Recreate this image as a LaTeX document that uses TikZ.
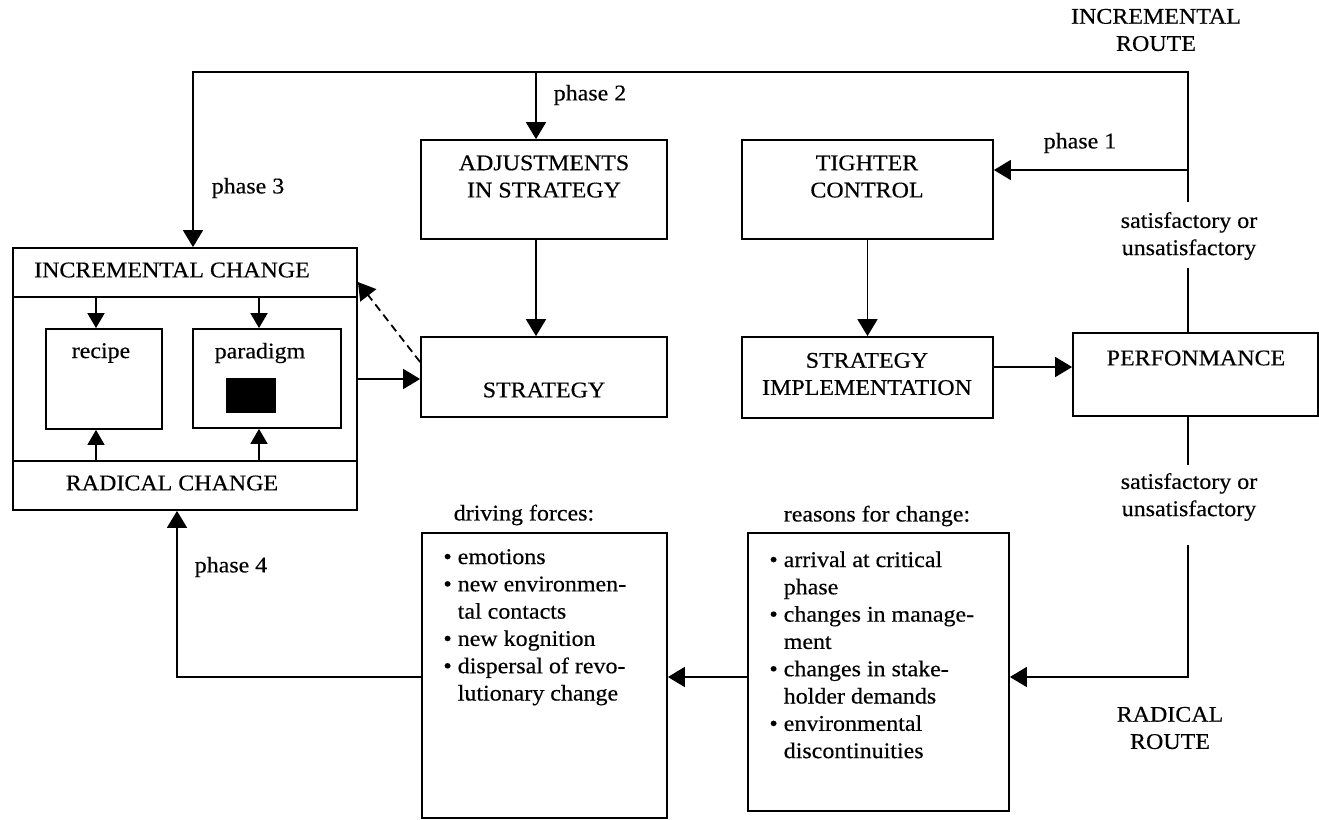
\documentclass[tikz,border=0pt]{standalone}
\usepackage{fontspec}
\setmainfont{Liberation Serif}[FakeStretch=1.07,FakeBold=0.4]
\usetikzlibrary{arrows.meta,fit,calc}

\tikzset{
  every node/.style={font=\fontsize{11.2pt}{13.6pt}\selectfont},
  frame/.style={draw, line width=0.9pt, inner sep=0pt},
  lbl/.style={align=center, inner sep=0pt},
  listline/.style={anchor=base west, inner sep=0pt},
  conn/.style={line width=0.9pt},
  arr/.style={conn, -{Triangle[length=8.5pt,width=10pt]}},
  smallarr/.style={conn, -{Triangle[length=7.5pt,width=8.5pt]}},
  dasharr/.style={arr, dash pattern=on 4pt off 2.5pt},
}

\begin{document}
\begin{tikzpicture}[x=0.5pt, y=-0.5pt]
\useasboundingbox (0,0) rectangle (1319,820);

% ---- boxes ----
\node[frame, fit={(421,140)(667,239)}] (adj) {};
\node[frame, fit={(742,140)(993,239)}] (tight) {};
\node[frame, fit={(421,337)(667,417)}] (strat) {};
\node[frame, fit={(742,337)(993,418)}] (impl) {};
\node[frame, fit={(1073,333)(1318,416)}] (perf) {};
\node[frame, fit={(13,248)(357,510)}] (change) {};
\node[frame, fit={(13,248)(357,297)}] (incr) {};
\node[frame, fit={(13,461)(357,510)}] (rad) {};
\node[frame, fit={(46,329)(162,429)}] (recipe) {};
\node[frame, fit={(193,329)(341,428)}] (para) {};
\node[fill=black, inner sep=0pt, fit={(226,378)(276,413)}] (blk) {};
\node[frame, fit={(422,533)(667,818)}] (drive) {};
\node[frame, fit={(748,533)(1009,811)}] (reason) {};

% ---- labels ----
\node[lbl] (adjt) at (544,176.5) {ADJUSTMENTS\\IN STRATEGY};
\node[lbl] (tightt) at (867,176.5) {TIGHTER\\CONTROL};
\node[lbl] (stratt) at (544,390) {STRATEGY};
\node[lbl] (implt) at (867,374) {STRATEGY\\IMPLEMENTATION};
\node[lbl] (perft) at (1196,358) {PERFONMANCE};
\node[lbl] (incrt) at (172,270) {INCREMENTAL CHANGE};
\node[lbl] (radt) at (172,483) {RADICAL CHANGE};
\node[lbl] (recipet) at (101,353) {recipe};
\node[lbl] (parat) at (260,353) {paradigm};
\node[lbl] (drivet) at (524,515) {driving forces:};
\node[lbl] (reasont) at (877,516) {reasons for change:};
\node[lbl] (ph1) at (1080,143) {phase 1};
\node[lbl] (ph2) at (590,95) {phase 2};
\node[lbl] (ph3) at (248,188) {phase 3};
\node[lbl] (ph4) at (231,567) {phase 4};
\node[lbl] (sat1) at (1189,236) {satisfactory or\\unsatisfactory};
\node[lbl] (sat2) at (1189,497) {satisfactory or\\unsatisfactory};
\node[lbl] (iroute) at (1156,30) {INCREMENTAL\\ROUTE};
\node[lbl] (rroute) at (1170,728) {RADICAL\\ROUTE};

% ---- bullet lists ----
\foreach [count=\i] \t in {
  {\textbullet\ emotions},
  {\textbullet\ new environmen-},
  {\hphantom{\textbullet\ }tal contacts},
  {\textbullet\ new kognition},
  {\textbullet\ dispersal of revo-},
  {\hphantom{\textbullet\ }lutionary change}}
  \node[listline] (drv\i) at (443,{536.7+27.3*\i}) {\t};

\foreach [count=\i] \t in {
  {\textbullet\ arrival at critical},
  {\hphantom{\textbullet\ }phase},
  {\textbullet\ changes in manage-},
  {\hphantom{\textbullet\ }ment},
  {\textbullet\ changes in stake-},
  {\hphantom{\textbullet\ }holder demands},
  {\textbullet\ environmental},
  {\hphantom{\textbullet\ }discontinuities}}
  \node[listline] (rsn\i) at (769,{539.7+27.3*\i}) {\t};

% ---- route coordinates ----
\coordinate (tl) at (193,72);
\coordinate (tr) at (1188,72);
\coordinate (g1a) at (1188,202);
\coordinate (g1b) at (1188,268);
\coordinate (g2a) at (1188,465);
\coordinate (g2b) at (1188,545);
\coordinate (rr) at (1188,677);
\coordinate (p1) at (1188,170);
\coordinate (p2) at (536,72);
\coordinate (p4) at (177,677);
\coordinate (ipy) at (0,367);
\coordinate (csy) at (0,379);
\coordinate (dsy) at (0,362);
\coordinate (dty) at (0,282);
\coordinate (xa) at (96,0);
\coordinate (xb) at (259,0);

% ---- incremental route ----
\draw[arr] (g1a) -- (tr) -- (tl) -- (tl |- change.north);
\draw[arr] (p2) -- (p2 |- adj.north);
\draw[arr] (p1) -- (p1 -| tight.east);
\draw[conn] (g1b) -- (g1b |- perf.north);

% ---- main chain ----
\draw[arr] (p2 |- adj.south) -- (p2 |- strat.north);
\draw[arr] (tight.south) -- (impl.north);
\draw[arr] (impl.east |- ipy) -- (perf.west |- ipy);
\draw[arr] (change.east |- csy) -- (strat.west |- csy);
\draw[dasharr] (strat.west |- dsy) -- (change.east |- dty);

% ---- inside the change box ----
\draw[smallarr] (incr.south -| xa) -- (recipe.north -| xa);
\draw[smallarr] (incr.south -| xb) -- (para.north -| xb);
\draw[smallarr] (rad.north -| xa) -- (recipe.south -| xa);
\draw[smallarr] (rad.north -| xb) -- (para.south -| xb);

% ---- radical route ----
\draw[conn] (perf.south -| g2a) -- (g2a);
\draw[arr] (g2b) -- (rr) -- (reason.east |- rr);
\draw[arr] (reason.west |- rr) -- (drive.east |- rr);
\draw[arr] (drive.west |- rr) -- (p4) -- (p4 |- change.south);
\end{tikzpicture}
\end{document}
